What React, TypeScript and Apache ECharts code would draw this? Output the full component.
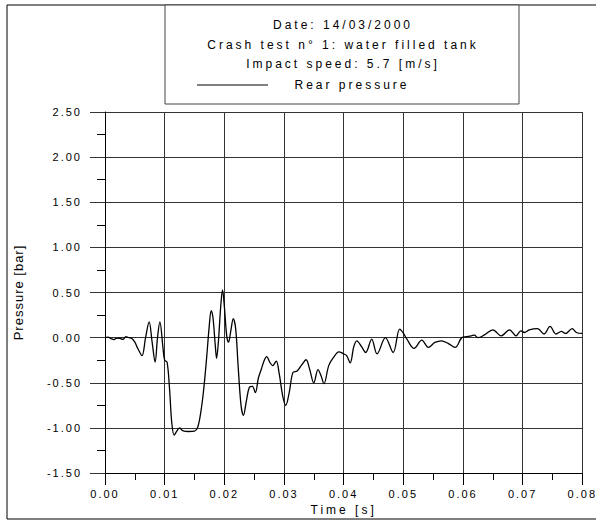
import React, { useEffect, useRef } from "react";
import * as echarts from "echarts";

const titleLines = [
  "Date: 14/03/2000",
  "Crash test n° 1: water filled tank",
  "Impact speed: 5.7 [m/s]",
];
const seriesName = "Rear pressure";
const xTitle = "Time [s]";
const yTitle = "Pressure [bar]";

const timeS = [
  0, 0.0005, 0.001, 0.0015, 0.002, 0.0025, 0.003, 0.0035, 0.004, 0.0045,
  0.005, 0.0055, 0.0062, 0.0068, 0.0074, 0.0079, 0.0084, 0.0088, 0.0092, 0.0097,
  0.01, 0.0104, 0.0108, 0.0112, 0.0116, 0.012, 0.0125, 0.013, 0.014, 0.015,
  0.0155, 0.016, 0.0165, 0.017, 0.0175, 0.0178, 0.0181, 0.0185, 0.0187, 0.019,
  0.0194, 0.0197, 0.02, 0.0204, 0.0207, 0.0211, 0.0215, 0.0219, 0.0223, 0.0228,
  0.0232, 0.0237, 0.0242, 0.0247, 0.0252, 0.0257, 0.0262, 0.0267, 0.0271, 0.0276,
  0.0281, 0.0287, 0.0292, 0.0298, 0.0303, 0.0309, 0.0315, 0.0322, 0.033, 0.0337,
  0.0343, 0.035, 0.0357, 0.0362, 0.0367, 0.0375, 0.0383, 0.0392, 0.04, 0.0405,
  0.0411, 0.0417, 0.0422, 0.043, 0.0437, 0.0447, 0.0456, 0.047, 0.0483, 0.0494,
  0.05, 0.0506, 0.0518, 0.0531, 0.0542, 0.0553, 0.0564, 0.0575, 0.0587, 0.0598,
  0.0606, 0.0614, 0.0619, 0.0625, 0.0636, 0.065, 0.0664, 0.0678, 0.0689, 0.0697,
  0.0703, 0.0711, 0.0725, 0.0736, 0.0746, 0.0756, 0.0765, 0.0772, 0.0783, 0.079,
  0.08,
];
const pressureBar = [
  0, 0.005, -0.01, -0.022, -0.005, -0.008, -0.02, 0.01, 0.0, -0.01,
  -0.05, -0.12, -0.2, 0.0, 0.175, -0.05, -0.27, 0.0, 0.175, -0.1,
  -0.25, -0.27, -0.55, -0.95, -1.08, -1.04, -1.0, -1.03, -1.04, -1.035,
  -1.0, -0.85, -0.6, -0.25, 0.15, 0.3, 0.22, -0.1, -0.23, -0.05,
  0.35, 0.53, 0.35, 0.02, -0.05, 0.08, 0.21, 0.1, -0.3, -0.75,
  -0.86, -0.7, -0.55, -0.54, -0.61, -0.45, -0.35, -0.25, -0.21, -0.27,
  -0.31, -0.26, -0.4, -0.65, -0.75, -0.6, -0.385, -0.37, -0.3, -0.245,
  -0.35, -0.5, -0.355, -0.42, -0.51, -0.31, -0.22, -0.157, -0.18, -0.2,
  -0.28, -0.1, -0.035, -0.1, -0.165, -0.017, -0.18, 0.0, -0.165, 0.094,
  0.05, -0.017, -0.12, -0.028, -0.108, -0.053, -0.035, -0.064, -0.108, 0.0,
  0.01, 0.02, 0.028, 0.0, 0.03, 0.086, 0.02, 0.086, 0.02, 0.075,
  0.057, 0.086, 0.1, 0.04, 0.124, 0.04, 0.07, 0.046, 0.1, 0.057,
  0.046,
];

const FONT = "'Liberation Sans', Arial, sans-serif";
const CSS = `
.crash-chart text[style*="11px"] { letter-spacing: 2px; }
.crash-chart text[style*="12px"] { letter-spacing: 3px; }
.crash-chart text[style*="13px"] { letter-spacing: 1px; }
`;

export default function App() {
  const ref = useRef<HTMLDivElement>(null);
  useEffect(() => {
    if (!ref.current) return;
    const chart = echarts.init(ref.current, undefined, { renderer: "svg" });
    const data = timeS.map((t, i) => [t, pressureBar[i]]);
    const gridColor = "#333";
    chart.setOption({
      animation: false,
      backgroundColor: "#fff",
      textStyle: { fontFamily: FONT },
      grid: { left: 105, top: 112, width: 480, height: 362 },
      xAxis: {
        type: "value",
        min: 0,
        max: 0.08,
        interval: 0.01,
        name: xTitle,
        nameLocation: "middle",
        nameGap: 31,
        nameTextStyle: { fontFamily: FONT, fontSize: 12, color: "#000" },
        axisLine: { show: true, onZero: false, lineStyle: { color: "#000", width: 1 } },
        axisTick: { show: true, inside: false, length: 12, lineStyle: { color: "#000" } },
        minorTick: { show: true, splitNumber: 2, length: 7, lineStyle: { color: "#000" } },
        splitLine: { show: true, lineStyle: { color: gridColor, width: 1 } },
        axisLabel: {
          formatter: (v: number) => v.toFixed(2),
          fontFamily: FONT,
          fontSize: 11,
          color: "#000",
          margin: 15,
        },
      },
      yAxis: {
        type: "value",
        min: -1.5,
        max: 2.5,
        interval: 0.5,
        name: yTitle,
        nameLocation: "middle",
        nameGap: 80,
        nameTextStyle: { fontFamily: FONT, fontSize: 13, color: "#000" },
        axisLine: { show: true, onZero: false, lineStyle: { color: "#000", width: 1 } },
        axisTick: { show: true, inside: false, length: 15, lineStyle: { color: gridColor } },
        minorTick: { show: true, splitNumber: 2, length: 8, lineStyle: { color: "#000" } },
        splitLine: { show: true, lineStyle: { color: gridColor, width: 1 } },
        axisLabel: {
          formatter: (v: number) => v.toFixed(2),
          fontFamily: FONT,
          fontSize: 11,
          color: "#000",
          margin: 23,
        },
      },
      series: [
        {
          type: "line",
          name: seriesName,
          data,
          smooth: 0.35,
          showSymbol: false,
          lineStyle: { color: "#000", width: 1.3 },
          z: 5,
        },
      ],
      graphic: [
        {
          type: "rect",
          shape: { x: 7, y: 5, width: 620, height: 514 },
          style: { fill: "none", stroke: "#000", lineWidth: 1 },
          silent: true,
        },
        {
          type: "rect",
          shape: { x: 165, y: 5, width: 354, height: 99 },
          style: { fill: "#fff", stroke: "#444", lineWidth: 1 },
          silent: true,
        },
        ...titleLines.map((s, i) => ({
          type: "text",
          x: 343,
          y: [25, 45, 64][i],
          style: {
            text: s,
            fontFamily: FONT,
            fontSize: 12,
            fill: "#000",
            align: "center",
            verticalAlign: "middle",
          },
          silent: true,
        })),
        {
          type: "line",
          shape: { x1: 197, y1: 85, x2: 268, y2: 85 },
          style: { stroke: "#000", lineWidth: 1 },
          silent: true,
        },
        {
          type: "text",
          x: 352,
          y: 85,
          style: {
            text: seriesName,
            fontFamily: FONT,
            fontSize: 12,
            fill: "#000",
            align: "center",
            verticalAlign: "middle",
          },
          silent: true,
        },
      ],
    });
    return () => chart.dispose();
  }, []);
  return (
    <>
      <style>{CSS}</style>
      <div
        ref={ref}
        className="crash-chart"
        style={{ position: "absolute", left: 0, top: 0, width: 596, height: 521 }}
      />
    </>
  );
}
